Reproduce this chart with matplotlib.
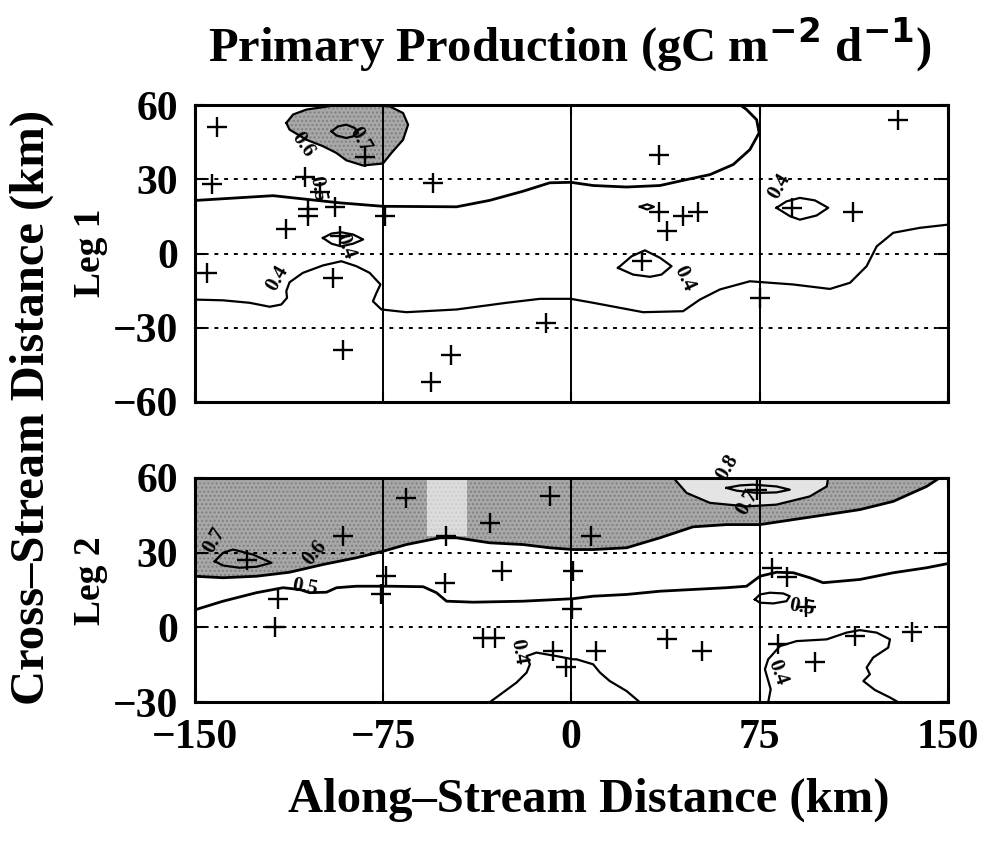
import numpy as np
import matplotlib.pyplot as plt

plt.rcParams['font.family'] = ['Liberation Serif', 'DejaVu Serif']
plt.rcParams['font.weight'] = 'bold'

# ---- data (km) ----
xticks = [-150, -75, 0, 75, 150]
yticks1 = [60, 30, 0, -30, -60]
yticks2 = [60, 30, 0, -30]

# Leg 1 stations
leg1_sx = [-141, -143, -106, -105, -105, -94, -113.5, -92, -145, -95, -82, -74, -55, -91, -48, -56,
           -10, 35, 35, 44.5, 50.5, 38, 28, 75, 88, 112, 130, -100]
leg1_sy = [51, 28, 31, 18, 15, 19, 10, 7, -8, -10, 39, 15, 28.5, -39, -41, -52,
           -28, 40, 17, 15, 17, 9, -3, -18, 18.5, 17, 54, 25]

# Leg 1 contours
l1_c06_x = [-113.5, -110.8, -105.5, -94.9, -83, -72.3, -67, -65, -67, -71.6, -75, -83, -89.6, -93.6, -98.9, -105.5, -112.2, -113.5]
l1_c06_y = [52.8, 56.2, 58.2, 59.8, 60, 59.5, 56.8, 52.1, 46, 40.7, 36.4, 35.6, 37.7, 40.7, 43.4, 46, 50.1, 52.8]
l1_c07_x = [-95.5, -92.9, -89.6, -86.3, -84.9, -86.9, -89.6, -93.5, -95.5]
l1_c07_y = [49.4, 51.4, 52.1, 50.8, 48.8, 47.4, 46.7, 47.7, 49.4]
l1_c05_x = [-149.3, -118.8, -104.2, -92.2, -75, -45.7, -32.5, -19.2, -8.6, -0.2, 8.7, 22, 35.3, 45.9,
            55.2, 64.5, 71.1, 74.8, 73.8, 69.8, 67.1]
l1_c05_y = [21.5, 23.4, 21.8, 20.5, 19.1, 18.9, 21.5, 25.2, 28.6, 28.8, 27.5, 26.9, 27.5, 29.9,
            31.9, 36, 42, 48.8, 54.1, 58.2, 60.2]
l1_c04_x = [-150, -138.7, -128.1, -120.1, -115.5, -113.2, -113.5, -112.2, -106.9, -98.9, -91.6, -85.6,
            -80.3, -76, -77.6, -79, -75.6, -65.7, -45.7, -25.8, -12.5, -0.2, 8.7, 28.6, 44.5, 51.2,
            59.2, 71.1, 88.4, 103, 111, 117.6, 121.6, 128.2, 138.8, 150.1]
l1_c04_y = [-18.6, -18.9, -19.9, -21.5, -20.6, -17.9, -15.2, -11.6, -7.8, -4.8, -3.1, -5.1,
            -7.8, -12.5, -15.9, -19.3, -22.6, -23.7, -22.6, -19.9, -18.3, -18.3, -19.9, -23.7, -23.3, -18.6,
            -14.5, -11.2, -12.5, -14.3, -11.8, -5.1, 2.9, 8.4, 10.4, 11.7]
l1_eye_a_x = [-98.9, -95.5, -91.6, -86.9, -82.9, -86.9, -91.6, -95.5, -98.9]
l1_eye_a_y = [6.3, 8.1, 8.6, 7.7, 5.7, 4, 2.9, 4, 6.3]
l1_eye_b_x = [27.3, 30.2, 32.9, 30.2, 27.3]
l1_eye_b_y = [18.9, 19.9, 18.9, 17.8, 18.9]
l1_eye_c_x = [18.6, 24, 29.3, 35.3, 39.9, 35.9, 31.3, 24.6, 18.6]
l1_eye_c_y = [-5.8, -1.1, 1.3, -1.7, -5.1, -8.5, -9.4, -8.5, -5.8]
l1_eye_d_x = [81.7, 85.7, 91, 97, 102.3, 97.7, 91, 87.1, 81.7]
l1_eye_d_y = [18.5, 21.1, 22.5, 21.5, 18.5, 15.4, 13.7, 15.1, 18.5]

l1_lab_txt = ['0.6', '0.7', '0.5', '0.4', '0.4', '0.4', '0.4']
l1_lab_x = [-107, -84, -101, -117, -90, 45, 83]
l1_lab_y = [44, 46, 26, -10, 3, -10, 27]
l1_lab_rot = [-55, -60, -80, 60, -70, -65, 60]

# Leg 2 stations
leg2_sx = [-91, -66, -32.5, -8.6, -50, -129, -117, -118, -73.6, -75.6, -50.4, -27.8, 0.7, 0.1,
           -35, -30.5, -7.2, -2, 8, 10, 38, 52, 80, 85.7, 74, 93.6, 82.4, 97, 113, 135.5]
leg2_sy = [36.5, 52, 42, 52.5, 36.5, 27.2, 11.2, 0, 20.5, 13.2, 17.9, 22.5, 22.5, 7.2,
           -4.1, -4.1, -9.5, -16, 36.5, -9.5, -4.8, -9.5, 24, 20, 55.2, 8, -6.8, -14, -3.5, -2]

# Leg 2 contours
l2_c06_x = [-150, -138.7, -125.4, -112.2, -98.9, -85.6, -75, -65.7, -52.4, -45.7, -32.5, -19.2,
            -8.6, 0.7, 8.7, 22, 35.3, 48.5, 61.8, 75.1, 88.4, 101.7, 114.9, 128.2, 141.5, 146.8]
l2_c06_y = [20.5, 19.9, 20.5, 22.1, 25.2, 27.9, 30.5, 33.2, 35.9, 35.9, 33.9, 33.2,
            31.9, 31.2, 31.2, 31.9, 35.9, 40.3, 41.2, 41.2, 43.2, 45.2, 47.2, 50.5, 56.5, 60]
l2_c05_x = [-150, -138.7, -125.4, -114.8, -108.2, -104.2, -97.5, -93.5, -85.6, -72.3, -59, -53.7,
            -49.7, -39.1, -19.2, 0.7, 8.7, 22, 35.3, 48.5, 61.8, 69.8, 75.1, 81.7, 88.4, 95,
            100.3, 114.9, 128.2, 141.5, 150.1]
l2_c05_y = [7, 10.5, 13.9, 15.9, 15.2, 13.9, 14.1, 15.9, 16.5, 16.5, 16.3, 13.9,
            10.5, 10.1, 10.5, 11.5, 12.5, 13.2, 14.5, 15.2, 15.9, 16.5, 20.5, 22.1, 21.9, 19.9,
            17.9, 19.2, 21.9, 23.9, 25.6]
l2_c07_x = [-142, -138.7, -134.7, -126.8, -119.4, -125.4, -132.1, -138.7, -142]
l2_c07_y = [26.5, 29.9, 31.2, 29.2, 25.9, 24.3, 23.9, 24.8, 26.5]
l2_c08_x = [40.6, 45.9, 55.2, 69.8, 81.7, 95, 101.7, 102.3]
l2_c08_y = [60, 53.9, 49.9, 48.5, 49.2, 52.5, 56.5, 60]
l2_c08in_x = [61.8, 67.1, 72.4, 81.7, 87, 81.7, 73.8, 65.8, 61.8]
l2_c08in_y = [55.9, 56.9, 57.2, 56.5, 55.2, 54.1, 53.9, 54.8, 55.9]
l2_eye_x = [73.1, 75.1, 79.1, 84.4, 87, 85.7, 80.4, 75.1, 73.1]
l2_eye_y = [11.2, 13.2, 13.9, 13.6, 12.5, 10.5, 9.6, 9.9, 11.2]
l2_c04a_x = [-32.5, -27.2, -21.8, -17.8, -16.5, -17.8, -13.9, -5.9, 0.7, 2.1, 8.7, 11.4, 15.3, 22, 27.3]
l2_c04a_y = [-30, -26.1, -22.1, -18.1, -14.8, -11.5, -10.1, -11.5, -12.8, -12.8, -14.8, -18.1, -21.5, -25.5, -30]
l2_c04b_x = [78.4, 79.4, 77.1, 78.4, 83.1, 89.7, 101.7, 109.6, 114.9, 121.6, 126.9, 126.2, 120.2,
             117.6, 118.9, 116.3, 120.9, 126.9, 130.2]
l2_c04b_y = [-30, -24.8, -16.8, -12.8, -7.5, -5.5, -4.8, -2.1, -1.1, -2.1, -4.8, -8.1, -12.1,
             -16.1, -18.8, -21.5, -25.1, -28.1, -30]
l2_gap_x = [-57.6, -41.6]
l2_gap_y = [36.6, 60]

l2_lab_txt = ['0.7', '0.6', '0.5', '0.8', '0.7', '0.5', '0.4', '0.4']
l2_lab_x = [-142, -102, -106, 62, 70, 92, -21, 82]
l2_lab_y = [35, 30, 16, 64, 50, 8, -10, -18]
l2_lab_rot = [60, 50, -10, 60, 60, -10, -80, -70]


def style_axes(ax, yticks, ylim):
    ax.set_xlim(-150, 150)
    ax.set_ylim(*ylim)
    ax.set_xticks(xticks)
    ax.set_yticks(yticks)
    for v in [-75, 0, 75]:
        ax.axvline(v, color='black', lw=1.4, zorder=2)
    for v in [30, 0, -30]:
        if ylim[0] < v < ylim[1]:
            ax.axhline(v, color='black', lw=1.4, ls=(0, (2, 3)), zorder=2)
    for s in ax.spines.values():
        s.set_linewidth(2.2)
    ax.tick_params(direction='in', length=7, width=1.5, top=True, right=True,
                   labelsize=30, pad=12)


def line(ax, x, y, lw=1.6):
    ax.plot(x, y, color='black', lw=lw, zorder=3)


fig = plt.figure(figsize=(9.88, 8.41), dpi=100)
ax1 = fig.add_axes([0.197, 0.522, 0.7625, 0.353])
ax2 = fig.add_axes([0.197, 0.165, 0.7625, 0.267])

# ---- Leg 1 ----
style_axes(ax1, yticks1, (-60, 60))
ax1.fill(l1_c06_x, l1_c06_y, facecolor='#a8a8a8', edgecolor='#808080', hatch='....', lw=0, zorder=1)
line(ax1, l1_c06_x, l1_c06_y)
line(ax1, l1_c07_x, l1_c07_y)
line(ax1, l1_c05_x, l1_c05_y, lw=2.0)
line(ax1, l1_c04_x, l1_c04_y)
for ex, ey in [(l1_eye_a_x, l1_eye_a_y), (l1_eye_b_x, l1_eye_b_y),
               (l1_eye_c_x, l1_eye_c_y), (l1_eye_d_x, l1_eye_d_y)]:
    line(ax1, ex, ey)
for t, x, y, r in zip(l1_lab_txt, l1_lab_x, l1_lab_y, l1_lab_rot):
    ax1.text(x, y, t, rotation=r, fontsize=15, ha='center', va='center', zorder=4)
ax1.plot(leg1_sx, leg1_sy, '+', color='black', ms=15, mew=1.7, zorder=5)
ax1.tick_params(labelbottom=False)

# ---- Leg 2 ----
style_axes(ax2, yticks2, (-30, 60))
ax2.fill_between(l2_c06_x, l2_c06_y, 60, facecolor='#a8a8a8', edgecolor='#808080', hatch='....', lw=0, zorder=1)
ax2.fill_between(l2_gap_x, l2_gap_y[0], l2_gap_y[1], facecolor='white', alpha=0.6, lw=0, zorder=1)
ax2.fill(l2_c08_x, l2_c08_y, facecolor='#e4e4e4', lw=0, zorder=1)
line(ax2, l2_c06_x, l2_c06_y, lw=2.0)
line(ax2, l2_c05_x, l2_c05_y, lw=2.0)
line(ax2, l2_c07_x, l2_c07_y)
line(ax2, l2_c08_x, l2_c08_y)
line(ax2, l2_c08in_x, l2_c08in_y)
line(ax2, l2_eye_x, l2_eye_y)
line(ax2, l2_c04a_x, l2_c04a_y)
line(ax2, l2_c04b_x, l2_c04b_y)
for t, x, y, r in zip(l2_lab_txt, l2_lab_x, l2_lab_y, l2_lab_rot):
    ax2.text(x, y, t, rotation=r, fontsize=15, ha='center', va='center', zorder=4)
ax2.plot(leg2_sx, leg2_sy, '+', color='black', ms=15, mew=1.7, zorder=5)

# ---- labels ----
fig.text(0.577, 0.947, r'Primary Production (gC m$^{\mathbf{-2}}$ d$^{\mathbf{-1}}$)',
         fontsize=35, ha='center', va='center')
fig.text(0.596, 0.049, 'Along\u2013Stream Distance (km)', fontsize=35, ha='center', va='center')
fig.text(0.032, 0.515, 'Cross\u2013Stream Distance (km)', fontsize=35, rotation=90,
         ha='center', va='center')
fig.text(0.092, 0.699, 'Leg 1', fontsize=27, rotation=90, ha='center', va='center')
fig.text(0.092, 0.310, 'Leg 2', fontsize=27, rotation=90, ha='center', va='center')

plt.savefig('out.png', dpi=100)
